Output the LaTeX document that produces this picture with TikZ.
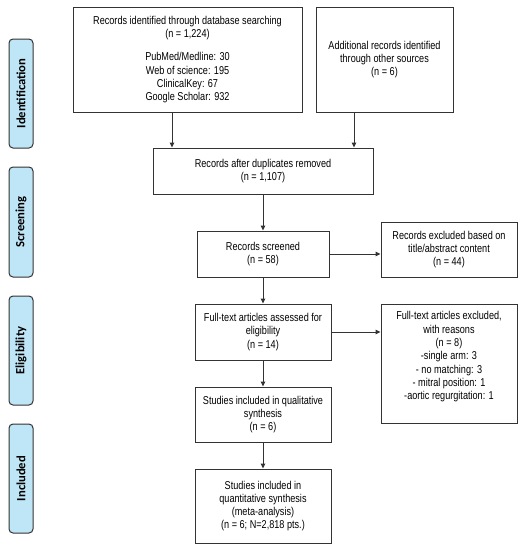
\documentclass[tikz,border=0pt]{standalone}
\usepackage{fontspec}
\setmainfont{Liberation Sans}[FakeStretch=0.80]
\newfontfamily\labfont{Carlito}
\usetikzlibrary{arrows.meta}
\definecolor{lineC}{HTML}{333333}
\definecolor{barC}{HTML}{BFE6F6}
\begin{document}
\begin{tikzpicture}[x=1pt,y=-1pt,
  box/.style={draw=lineC, line width=1pt, fill=white, align=center, inner sep=0pt,
    font=\fontsize{11.4}{13.3}\selectfont},
  bar/.style={draw=lineC, line width=1pt, fill=barC, rounded corners=4pt, minimum width=24pt,
    inner sep=0pt},
  bartext/.style={rotate=90, font=\labfont\bfseries\fontsize{12.6}{14}\selectfont},
  arr/.style={draw=lineC, line width=1pt, -{Triangle[length=5pt,width=4.5pt]}},
  txt/.style={align=center, inner sep=0pt, font=\fontsize{11.4}{13.3}\selectfont}]
\useasboundingbox (0,0) rectangle (528,550);
% side bars
\node[bar, minimum height=109pt] (b1) at (21,93.5) {};
\node[bartext] at (b1) {Identification};
\node[bar, minimum height=110pt] (b2) at (21,222) {};
\node[bartext] at (b2) {Screening};
\node[bar, minimum height=109pt] (b3) at (21,350.5) {};
\node[bartext] at (b3) {Eligibility};
\node[bar, minimum height=109pt] (b4) at (21,478.5) {};
\node[bartext] at (b4) {Included};
% boxes
\node[box, minimum width=229pt, minimum height=105pt] (db) at (187.5,59.5)
  {Records identified through database searching\\(n = 1,224)\\[10pt]PubMed/Medline: 30\\Web of science: 195\\ClinicalKey: 67\\Google Scholar: 932};
\node[box, minimum width=137pt, minimum height=105pt] (other) at (384.5,59.5)
  {Additional records identified\\through other sources\\(n = 6)};
\node[box, minimum width=220pt, minimum height=46pt] (dup) at (263,171)
  {Records after duplicates removed\\(n = 1,107)};
\node[box, minimum width=132pt, minimum height=46pt] (scr) at (263,254)
  {Records screened\\(n = 58)};
\node[box, minimum width=136pt, minimum height=55pt] (ex1) at (449,249.5)
  {Records excluded based on\\title/abstract content\\(n = 44)};
\node[box, minimum width=136pt, minimum height=56pt] (full) at (263,332)
  {Full-text articles assessed for\\eligibility\\(n = 14)};
\node[box, minimum width=136pt, minimum height=119pt] (ex2) at (449,363.5) {};
\node[txt, anchor=north] (ex2t) at ([yshift=-8pt]ex2.north)
  {Full-text articles excluded,\\with reasons\\(n = 8)\\-single arm: 3\\- no matching: 3\\- mitral position: 1\\-aortic regurgitation: 1};
\node[box, minimum width=136pt, minimum height=55pt] (qual) at (263,414.5)
  {Studies included in qualitative\\synthesis\\(n = 6)};
\node[box, minimum width=136pt, minimum height=74pt] (quant) at (263,506)
  {Studies included in\\quantitative synthesis\\(meta-analysis)\\(n = 6; N=2,818 pts.)};
% arrows
\draw[arr] (db.south -| 172,0) -- (dup.north -| 172,0);
\draw[arr] (other.south -| 354,0) -- (dup.north -| 354,0);
\draw[arr] (dup) -- (scr);
\draw[arr] (scr.east) -- (ex1.west |- scr.east);
\draw[arr] (scr) -- (full);
\draw[arr] (full.east) -- (ex2.west |- full.east);
\draw[arr] (full) -- (qual);
\draw[arr] (qual) -- (quant);
\end{tikzpicture}
\end{document}
